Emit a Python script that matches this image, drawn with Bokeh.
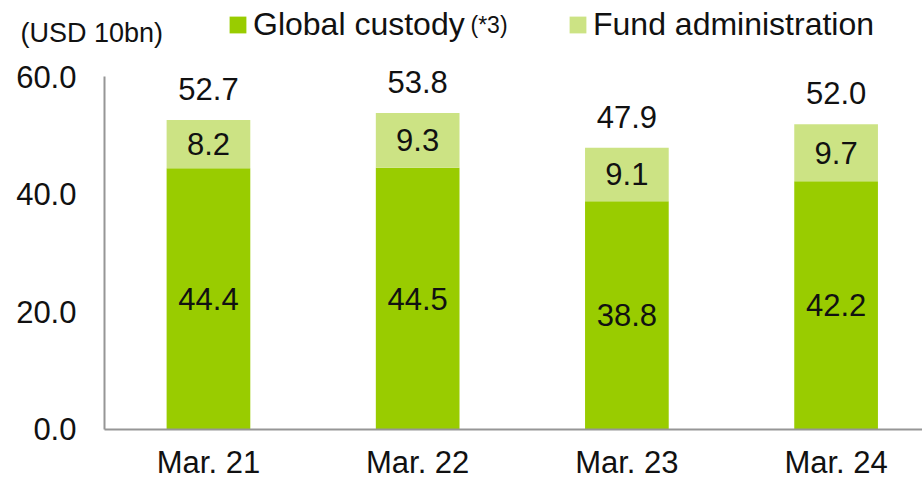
from bokeh.plotting import figure
from bokeh.models import (ColumnDataSource, Range1d, FixedTicker, NumeralTickFormatter,
                          LabelSet, Label, Legend, LegendItem)
from bokeh.core.properties import value
from bokeh.embed import file_html
from bokeh.resources import INLINE

categories = ["Mar. 21", "Mar. 22", "Mar. 23", "Mar. 24"]
global_custody = [44.4, 44.5, 38.8, 42.2]
fund_admin = [8.2, 9.3, 9.1, 9.7]
totals = [52.7, 53.8, 47.9, 52.0]
y_ticks = [0, 20, 40, 60]

DARK = "#99CC00"
LIGHT = "#CCE384"
FONT = "Liberation Sans"
TXT = "#111111"
AX = "#969696"

xs = list(range(len(categories)))
stack_top = [a + b for a, b in zip(global_custody, fund_admin)]
src = ColumnDataSource(dict(
    x=xs,
    custody=global_custody,
    fund=fund_admin,
    top=stack_top,
    custody_mid=[a / 2 for a in global_custody],
    fund_mid=[a + b / 2 for a, b in zip(global_custody, fund_admin)],
    custody_txt=[f"{v:.1f}" for v in global_custody],
    fund_txt=[f"{v:.1f}" for v in fund_admin],
    total_txt=[f"{v:.1f}" for v in totals],
))

# layout: frame fills the whole canvas, axes are drawn at fixed locations inside it
X_START, X_END, X_AXIS_LEFT = -0.994, 3.413, -0.497
p = figure(width=922, height=479, output_backend="svg", toolbar_location=None,
           x_range=Range1d(X_START, X_END), y_range=Range1d(-8.5, 72.92))
p.min_border_left = 0
p.min_border_right = 0
p.min_border_top = 0
p.min_border_bottom = 0
p.outline_line_color = None
p.xgrid.grid_line_color = None
p.ygrid.grid_line_color = None

r_dark = p.vbar(x="x", top="custody", bottom=0, width=0.4, source=src,
                fill_color=DARK, line_color=None)
r_light = p.vbar(x="x", bottom="custody", top="top", width=0.4, source=src,
                 fill_color=LIGHT, line_color=None)

yax = p.yaxis[0]
yax.fixed_location = X_AXIS_LEFT
yax.ticker = FixedTicker(ticks=y_ticks)
yax.formatter = NumeralTickFormatter(format="0.0")
yax.bounds = (0, 60)
yax.axis_line_color = AX
yax.axis_line_width = 2
yax.major_tick_line_color = None
yax.major_tick_out = 0
yax.major_tick_in = 0
yax.minor_tick_line_color = None
yax.minor_tick_out = 0
yax.major_label_standoff = 28
yax.major_label_text_font = FONT
yax.major_label_text_font_size = "31px"
yax.major_label_text_color = TXT

xax = p.xaxis[0]
xax.fixed_location = 0
xax.ticker = FixedTicker(ticks=xs)
xax.major_label_overrides = {i: c for i, c in zip(xs, categories)}
xax.bounds = (X_AXIS_LEFT, X_END)
xax.axis_line_color = AX
xax.axis_line_width = 2
xax.major_tick_line_color = None
xax.major_tick_out = 0
xax.major_tick_in = 0
xax.minor_tick_line_color = None
xax.minor_tick_out = 0
xax.major_label_standoff = 16
xax.major_label_text_font = FONT
xax.major_label_text_font_size = "31px"
xax.major_label_text_color = TXT

common = dict(source=src, text_font=value(FONT), text_font_size="31px", text_color=TXT,
              text_align="center")
p.add_layout(LabelSet(x="x", y="custody_mid", text="custody_txt", text_baseline="middle", **common))
p.add_layout(LabelSet(x="x", y="fund_mid", text="fund_txt", text_baseline="middle", **common))
p.add_layout(LabelSet(x="x", y="top", text="total_txt", text_baseline="alphabetic",
                      y_offset=20, **common))

leg_common = dict(orientation="horizontal", glyph_width=21, glyph_height=21,
                  label_standoff=5, padding=0, margin=0, border_line_color=None,
                  background_fill_alpha=0, label_text_font=FONT,
                  label_text_font_size="32px", label_text_color=TXT)
leg1 = Legend(items=[LegendItem(label="Global custody", renderers=[r_dark])],
              location=(227, 436), **leg_common)
leg2 = Legend(items=[LegendItem(label="Fund administration", renderers=[r_light])],
              location=(567, 436), **leg_common)
p.add_layout(leg1)
p.add_layout(leg2)

p.add_layout(Label(x=20, y=447, x_units="screen", y_units="screen", text="(USD 10bn)",
                   text_font=FONT, text_font_size="27px", text_color=TXT,
                   text_baseline="middle"))
p.add_layout(Label(x=470, y=455, x_units="screen", y_units="screen", text="(*3)",
                   text_font=FONT, text_font_size="23px", text_color=TXT,
                   text_baseline="middle"))

open("out.html", "w").write(file_html(p, INLINE))
